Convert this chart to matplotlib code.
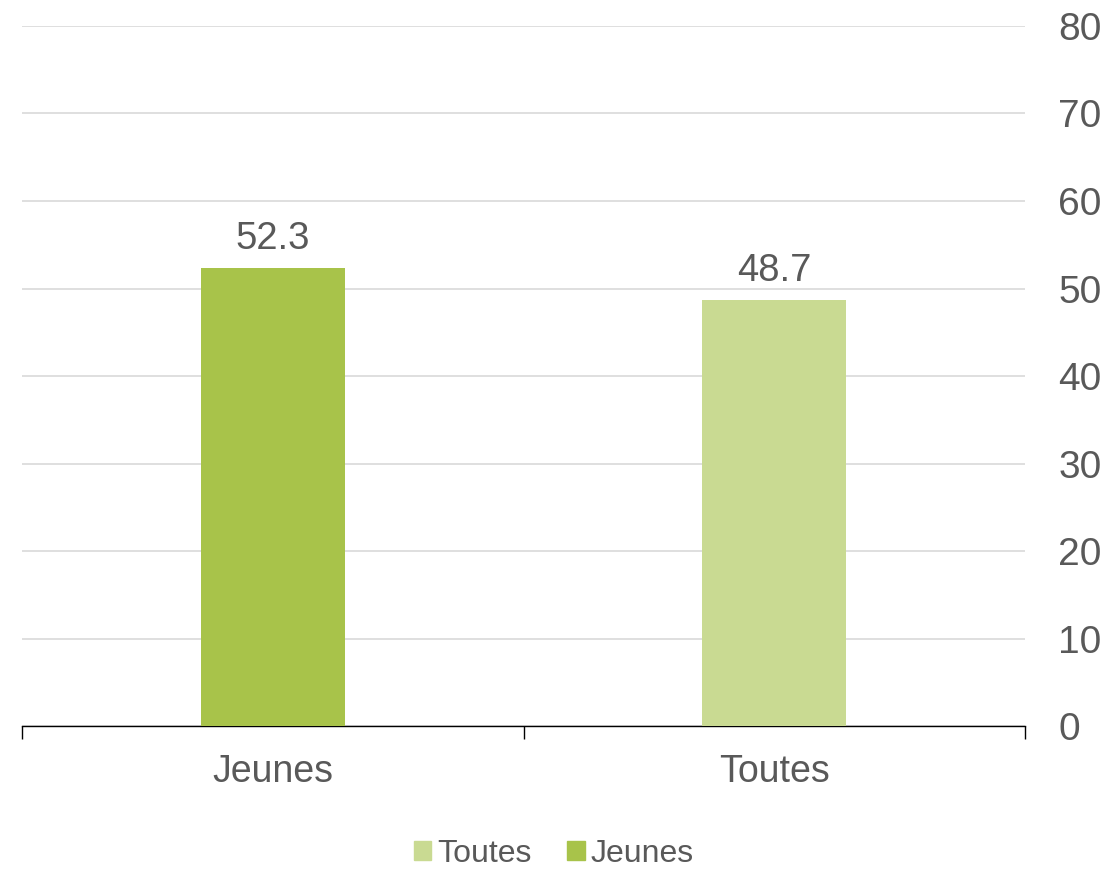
import matplotlib
matplotlib.use("Agg")
import matplotlib.pyplot as plt
from matplotlib.patches import Patch

categories = ["Jeunes", "Toutes"]
values = [52.3, 48.7]
colors = ["#a8c34a", "#c9da92"]
yticks = [0, 10, 20, 30, 40, 50, 60, 70, 80]

plt.rcParams["font.family"] = ["Liberation Sans", "DejaVu Sans"]
text_color = "#595959"

fig = plt.figure(figsize=(11.01, 8.72), dpi=100)
ax = fig.add_axes([0.02, 0.1674, 0.911, 0.8028])

x = list(range(len(categories)))
bars = ax.bar(x, values, width=0.287, color=colors, zorder=3)
for b, v in zip(bars, values):
    ax.annotate(f"{v:.1f}", (b.get_x() + b.get_width() / 2, v),
                xytext=(0, 8), textcoords="offset points",
                ha="center", va="bottom", fontsize=27.5, color=text_color)

ax.set_xlim(-0.5, len(categories) - 0.5)
ax.set_ylim(0, 80)
ax.set_yticks(yticks)
ax.yaxis.tick_right()
ax.tick_params(axis="y", length=0, labelsize=28, labelcolor=text_color, pad=24)
ax.grid(axis="y", color="#d9d9d9", linewidth=1.2, zorder=0)

ax.set_xticks(x)
ax.set_xticklabels(categories)
ax.set_xticks([i - 0.5 for i in range(len(categories) + 1)], minor=True)
ax.tick_params(axis="x", which="major", length=0, labelsize=27,
               labelcolor=text_color, pad=20)
ax.tick_params(axis="x", which="minor", length=9, width=1, color="black")

for s in ["top", "right", "left"]:
    ax.spines[s].set_visible(False)
ax.spines["bottom"].set_color("black")
ax.spines["bottom"].set_linewidth(1)

handles = [Patch(color=colors[1], label="Toutes"), Patch(color=colors[0], label="Jeunes")]
leg = fig.legend(handles=handles, loc="lower center", bbox_to_anchor=(0.503, 0.004),
                 ncol=2, frameon=False, fontsize=23, handlelength=0.55,
                 handleheight=0.55, handletextpad=0.2, columnspacing=1.1,
                 borderaxespad=0, borderpad=0)
for t in leg.get_texts():
    t.set_color(text_color)

fig.savefig("out.png", dpi=100)
